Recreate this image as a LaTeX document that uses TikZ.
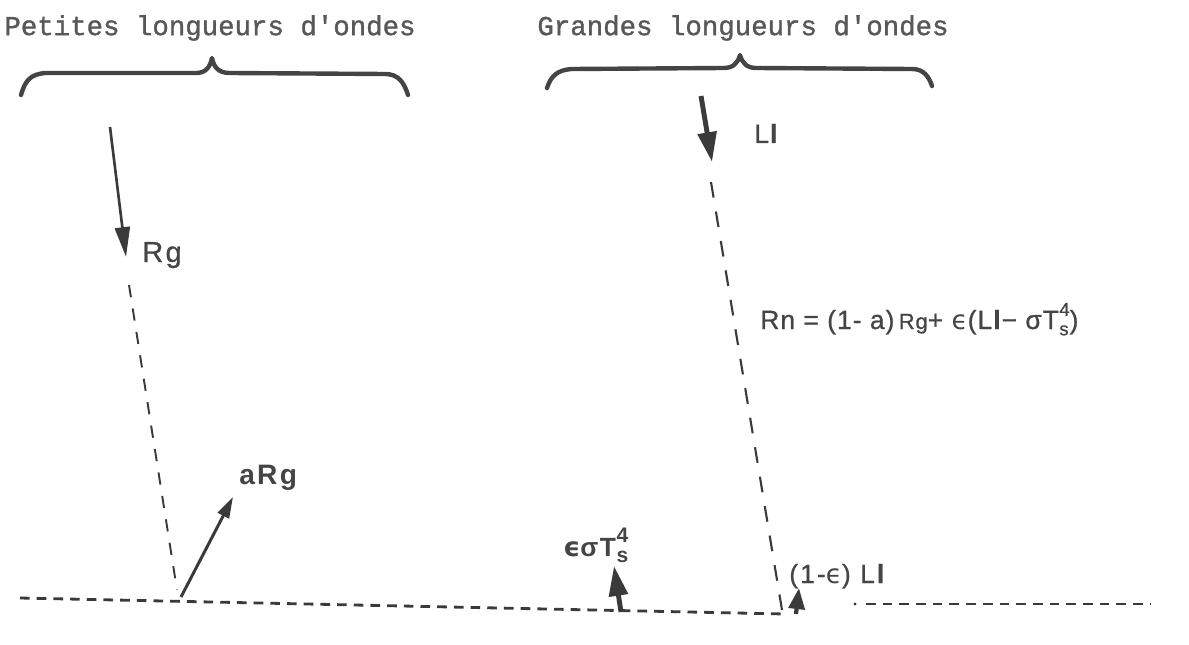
\documentclass[tikz,border=0pt]{standalone}
\usepackage{fontspec}
\setmainfont{Liberation Sans}
\setmonofont{Liberation Mono}[FakeBold=1.2]
\newfontfamily\dvs{DejaVu Sans}
\usetikzlibrary{arrows.meta}
\definecolor{ink}{HTML}{3A3A3A}
\definecolor{txt}{HTML}{454545}
\newcommand\eps{{\dvs ϵ}}
\newcommand\TsIV[1]{T\kern0.02em\rlap{\raisebox{-0.45ex}{\fontsize{#1}{#1}\selectfont s}}\raisebox{0.95ex}{\fontsize{#1}{#1}\selectfont 4}}
\tikzset{
  title/.style={font=\ttfamily\fontsize{15.6pt}{18pt}\selectfont, text=txt!90, inner sep=0pt},
  lbl/.style={font=\fontsize{16.5pt}{19pt}\selectfont\addfontfeature{LetterSpace=8,FakeBold=0.8}, text=txt, inner sep=0pt},
  flbl/.style={font=\fontsize{15pt}{18pt}\selectfont\addfontfeature{LetterSpace=4,FakeBold=0.9}, text=txt, inner sep=0pt},
  blbl/.style={font=\bfseries\fontsize{16pt}{19pt}\selectfont\addfontfeature{LetterSpace=8}, text=txt, inner sep=0pt},
  brace/.style={draw=ink!95, line width=2.5pt, line cap=round, line join=round},
  thinarr/.style={draw=ink, line width=1.5pt, -{Triangle[length=17pt,width=8.5pt]}},
  thickarr/.style={draw=ink, line width=2.8pt, -{Triangle[length=17pt,width=10.5pt]}},
  smallarr/.style={draw=ink, line width=2.4pt, -{Triangle[length=12pt,width=9pt]}},
  medarr/.style={draw=ink, line width=1.7pt, -{Triangle[length=12pt,width=7pt]}},
  sdash/.style={draw=ink, line width=1.1pt, dash pattern=on 7pt off 6.5pt},
  rdash/.style={draw=ink, line width=1.2pt, dash pattern=on 9pt off 8pt},
  gdash/.style={draw=ink, line width=1.6pt, dash pattern=on 5.5pt off 4pt},
}
\begin{document}
\begin{tikzpicture}[x=0.02cm,y=-0.02cm]
\useasboundingbox (0,0) rectangle (1189,645);

% titles
\node[title] (t1) at (210,28) {Petites longueurs d'ondes};
\node[title] (t2) at (743,28) {Grandes longueurs d'ondes};

% braces
\draw[brace] (21,95) .. controls (25,81) and (30,74) .. (46,73) -- (196,73)
  .. controls (205,73) and (210,68) .. (212,58)
  .. controls (214,68) and (219,73) .. (230,73) -- (385,74)
  .. controls (398,74) and (404,82) .. (408,95);
\draw[brace] (547,88) .. controls (551,76) and (557,70) .. (572,69) -- (724,68)
  .. controls (733,68) and (738,63) .. (740,55)
  .. controls (742,63) and (747,68) .. (756,68) -- (912,69)
  .. controls (924,69) and (929,77) .. (932,86);

% coordinates
\coordinate (a1s) at (110,127);
\coordinate (a1e) at (126,257);
\coordinate (d1s) at (129,285);
\coordinate (d1e) at (177,590);
\coordinate (ars) at (181,597);
\coordinate (are) at (233,497);
\coordinate (a2s) at (701,96);
\coordinate (a2e) at (712,162);
\coordinate (d2s) at (711,182);
\coordinate (d2e) at (782,610);
\coordinate (ees) at (621,612);
\coordinate (eee) at (614,566);
\coordinate (e2s) at (796,614);
\coordinate (e2e) at (799,588);
\coordinate (g1s) at (20,598);
\coordinate (g1e) at (785,614);
\coordinate (g2d) at (855,604);
\coordinate (g2s) at (866,604);
\coordinate (g2e) at (1150,604);

% ground
\draw[gdash] (g1s) -- (g1e);
\fill[ink] (g2d) circle (1.6);
\draw[gdash] (g2s) -- (g2e);

% left side
\draw[thinarr] (a1s) -- (a1e);
\draw[sdash] (d1s) -- (d1e);
\draw[medarr] (ars) -- (are);

% right side
\draw[thickarr] (a2s) -- (a2e);
\draw[rdash] (d2s) -- (d2e);
\draw[thickarr] (ees) -- (eee);
\draw[smallarr] (e2s) -- (e2e);

% labels
\node[lbl, anchor=base west] (rg) at (142,262) {Rg};
\node[blbl, anchor=base west] (arg) at (239,484) {aRg};
\node[flbl, anchor=base west] (ll) at (754,143) {L\textbf{l}};
\node[flbl, anchor=base west] (rn) at (760,329) {Rn = (1- a)\,{\fontsize{12.5pt}{14pt}\selectfont Rg}+ \eps(L\textbf{l}− σ\TsIV{10.5pt})};
\node[blbl, anchor=base west, font=\bfseries\fontsize{15pt}{18pt}\selectfont\addfontfeature{LetterSpace=6}] (es) at (563,556) {\eps σ\TsIV{12pt}};
\node[flbl, anchor=base west, font=\fontsize{15pt}{18pt}\selectfont\addfontfeature{LetterSpace=8,FakeBold=0.8}] (le) at (789,583) {(1-\eps) L\textbf{l}};
\end{tikzpicture}
\end{document}
